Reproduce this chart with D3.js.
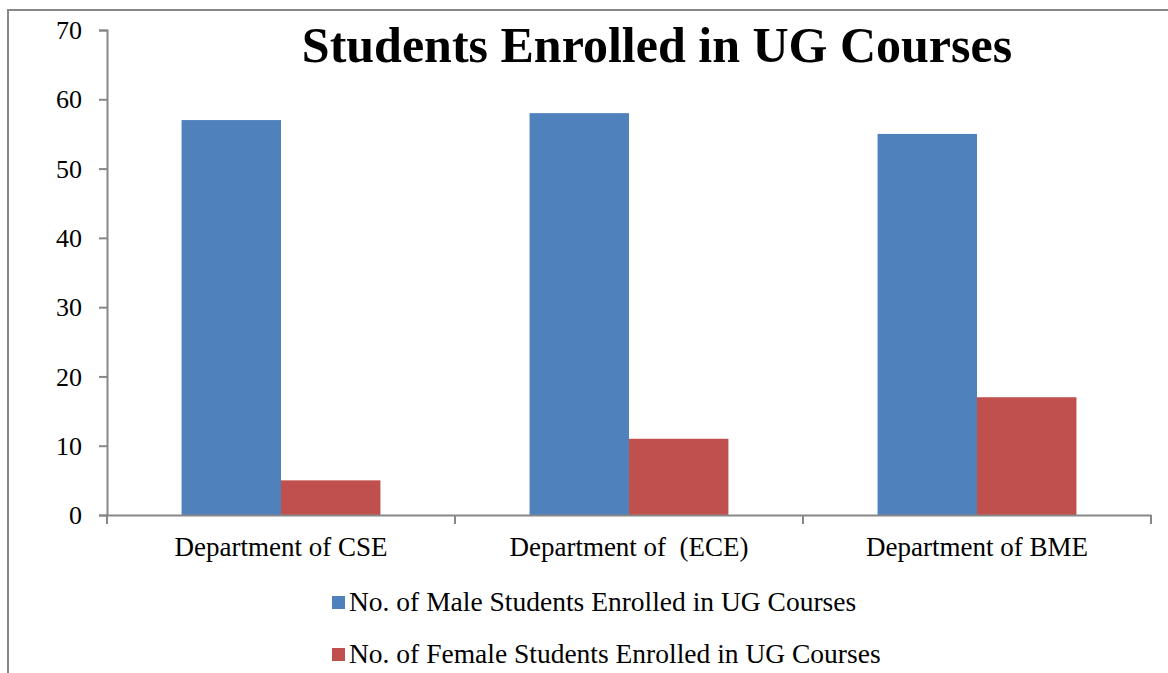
<!DOCTYPE html>
<html>
<head>
<meta charset="utf-8">
<script src="https://cdn.jsdelivr.net/npm/d3@7/dist/d3.min.js"></script>
<style>
	body { margin: 0; background: #fff; }
	svg { display: block; }
	text { font-family: "Liberation Serif", "Times New Roman", serif; fill: #000; }
</style>
</head>
<body>
<div id="chart"></div>
<script>

// chart data
var departments = ["Department of CSE", "Department of  (ECE)", "Department of BME"];
var seriesNames = ["No. of Male Students Enrolled in UG Courses", "No. of Female Students Enrolled in UG Courses"];
var maleValues = [57, 58, 55];
var femaleValues = [5, 11, 17];
var yTicks = [0, 10, 20, 30, 40, 50, 60, 70];
var colors = ["#4f81bd", "#c0504d"];

var width = 1168, height = 673;
var margin = { top: 30, right: 17, bottom: 158, left: 107 };

var svg = d3.select("#chart").append("svg")
	.attr("width", width)
	.attr("height", height);

// outer chart border (only top and left edges are visible)
svg.append("rect")
	.attr("x", 8)
	.attr("y", 10)
	.attr("width", width)
	.attr("height", height)
	.attr("fill", "none")
	.attr("stroke", "#878787")
	.attr("stroke-width", 2);

var x = d3.scaleBand()
	.domain(departments)
	.range([margin.left, width - margin.right])
	.padding(0);

var xSub = d3.scaleBand()
	.domain([0, 1])
	.range([0, x.bandwidth()])
	.paddingInner(0)
	.paddingOuter(0.75);

var y = d3.scaleLinear()
	.domain([0, 70])
	.range([height - margin.bottom, margin.top]);

// bars
var rows = departments.map(function(d, i){
	return { dept: d, values: [maleValues[i], femaleValues[i]] };
});

var groups = svg.selectAll(".dept")
	.data(rows)
	.enter()
	.append("g")
	.attr("class", "dept")
	.attr("transform", function(d){ return "translate(" + x(d.dept) + ",0)"; });

groups.selectAll("rect")
	.data(function(d){ return d.values; })
	.enter()
	.append("rect")
	.attr("x", function(d, i){ return xSub(i); })
	.attr("y", function(d){ return y(d); })
	.attr("width", xSub.bandwidth())
	.attr("height", function(d){ return y(0) - y(d); })
	.attr("fill", function(d, i){ return colors[i]; });

// y axis
var yAxis = svg.append("g")
	.attr("transform", "translate(" + margin.left + ",0)")
	.call(d3.axisLeft(y).tickValues(yTicks).tickSize(8).tickPadding(17));

yAxis.select(".domain").attr("stroke", "#878787").attr("stroke-width", 2);
yAxis.selectAll(".tick line").attr("stroke", "#878787").attr("stroke-width", 2);
yAxis.selectAll(".tick text")
	.attr("font-family", "Liberation Serif, serif")
	.attr("font-size", 26)
	.attr("dy", "0.33em")
	.attr("fill", "#000");

// x axis
var xAxis = svg.append("g")
	.attr("transform", "translate(0," + y(0) + ")")
	.call(d3.axisBottom(x).tickSize(0).tickPadding(22).tickSizeOuter(0));

xAxis.select(".domain").attr("stroke", "#878787").attr("stroke-width", 2);
xAxis.selectAll(".tick text")
	.attr("font-family", "Liberation Serif, serif")
	.attr("font-size", 27)
	.attr("fill", "#000")
	.style("white-space", "pre");

// category boundary ticks
var bounds = departments.map(function(d){ return x(d); }).concat([x.range()[1]]);
xAxis.selectAll(".bound")
	.data(bounds)
	.enter()
	.append("line")
	.attr("class", "bound")
	.attr("x1", function(d){ return d; })
	.attr("x2", function(d){ return d; })
	.attr("y1", 0)
	.attr("y2", 9)
	.attr("stroke", "#878787")
	.attr("stroke-width", 2);

// title
svg.append("text")
	.text("Students Enrolled in UG Courses")
	.attr("x", 657)
	.attr("y", 62)
	.attr("text-anchor", "middle")
	.attr("font-size", 50)
	.attr("font-weight", "bold");

// legend
var legend = svg.selectAll(".legend")
	.data(seriesNames)
	.enter()
	.append("g")
	.attr("class", "legend")
	.attr("transform", function(d, i){ return "translate(332," + (596 + i * 52) + ")"; });

legend.append("rect")
	.attr("width", 13)
	.attr("height", 13)
	.attr("fill", function(d, i){ return colors[i]; });

legend.append("text")
	.text(function(d){ return d; })
	.attr("x", 17)
	.attr("y", 15)
	.attr("font-size", 27.5);

</script>
</body>
</html>
